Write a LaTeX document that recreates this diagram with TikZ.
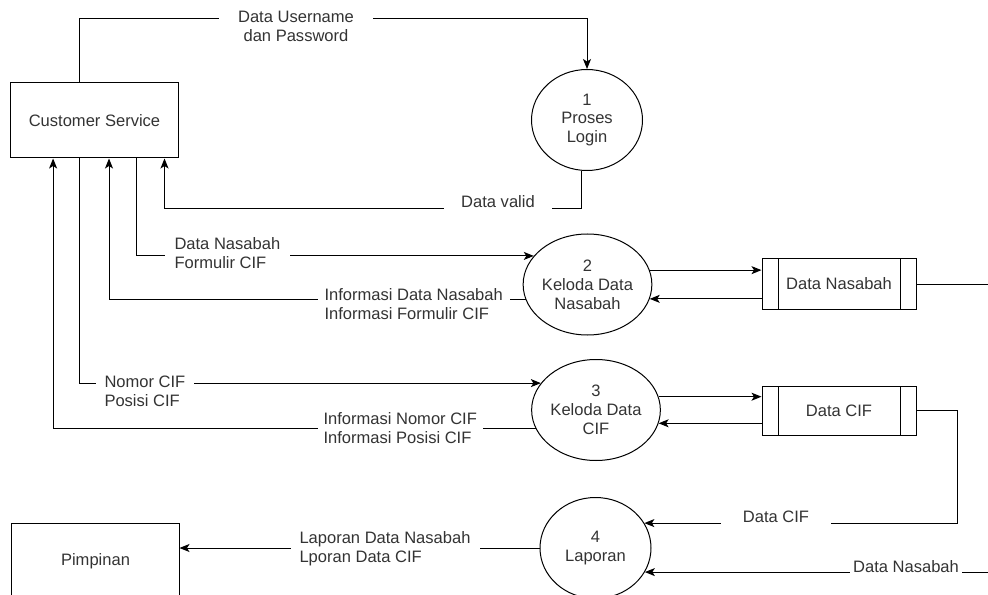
\documentclass[tikz,border=0pt]{standalone}
\usepackage{fontspec}
\setmainfont{Liberation Sans}
\usetikzlibrary{shapes.geometric,arrows.meta}

\begin{document}
\begin{tikzpicture}[x=1bp, y=-1bp, line width=1bp,
  every node/.style={font=\fontsize{16.6}{19}\selectfont, text=black!80},
  entity/.style={draw, rectangle, minimum width=167bp, minimum height=75bp},
  proc/.style={draw, ellipse, minimum width=111bp, minimum height=101bp, inner sep=0pt, align=center},
  store/.style={draw, rectangle, minimum width=154bp, minimum height=50bp,
    path picture={
      \draw ([xshift=16bp]path picture bounding box.north west) -- ([xshift=16bp]path picture bounding box.south west);
      \draw ([xshift=-16bp]path picture bounding box.north east) -- ([xshift=-16bp]path picture bounding box.south east);
    }},
  flow/.style={-{Stealth[length=10bp,width=8bp,inset=2.5bp]}},
  lbl/.style={fill=white, inner ysep=3bp, align=left}]
  \useasboundingbox (0,0) rectangle (988,595);
  \clip (0,0) rectangle (988,595);

  % entitas luar
  \node[entity] (cs) at (94.5,120.5) {Customer Service};
  \node[entity, minimum height=76bp] (pim) at (95.5,561) {Pimpinan};

  % proses
  \node[proc] (c1) at (587,120) {1\\Proses\\Login};
  \node[proc] (c2) at (587.5,284.5) {2\\Keloda Data\\Nasabah};
  \node[proc] (c3) at (596,410) {3\\Keloda Data\\CIF};
  \node[proc] (c4) at (595.5,548) {4\\Laporan};

  % data store
  \node[store] (ds) at (839,284) {Data Nasabah};
  \node[store, minimum height=49bp] (dc) at (839,410.5) {Data CIF};

  % login
  \draw[flow] ([xshift=69bp]cs.north west) |- ([yshift=50bp]c1.north) -- (c1.north);
  \draw[flow] (c1.264) -- ([yshift=-38bp]c1.264) -| ([xshift=154bp]cs.south west);

  % customer service <-> proses 2 dan 3
  \draw[flow] ([xshift=125.6bp]cs.south west) |- (c2.152);
  \draw[flow] (c2.194) -| ([xshift=98.5bp]cs.south west);
  \draw[flow] ([xshift=69.4bp]cs.south west) |- (c3.154);
  \draw[flow] (c3.197) -| ([xshift=42.6bp]cs.south west);

  % proses <-> data store
  \draw[flow] (c2.13) -- (c2.13 -| ds.west);
  \draw[flow] (c2.-13 -| ds.west) -- (c2.-13);
  \draw[flow] (c3.12) -- (c3.12 -| dc.west);
  \draw[flow] (c3.-12 -| dc.west) -- (c3.-12);

  % data store -> laporan
  \coordinate (dcR) at ([xshift=41bp]dc.east);
  \coordinate (dsR) at ([xshift=84bp]ds.east);
  \draw[flow] (dc.east) -- (dcR) |- (c4.27);
  \draw[flow] (ds.east) -- (dsR) |- (c4.-26);

  % laporan -> pimpinan
  \draw[flow] (c4.west) -- (c4.west -| pim.east);

  % label aliran data
  \node[lbl, align=center, inner xsep=19bp] (lUser) at (296,26.5) {Data Username\\dan Password};
  \node[lbl, inner xsep=17bp] (lValid) at (498,202) {Data valid};
  \node[lbl, anchor=west, inner xsep=10bp] (lNasIn) at (164,253) {Data Nasabah\\Formulir CIF};
  \node[lbl, anchor=west, inner xsep=7bp] (lNasOut) at (317,304.5) {Informasi Data Nasabah\\Informasi Formulir CIF};
  \node[lbl, anchor=west, inner xsep=9bp] (lCifIn) at (95,391.5) {Nomor CIF\\Posisi CIF};
  \node[lbl, anchor=west, inner xsep=6bp] (lCifOut) at (317,428.5) {Informasi Nomor CIF\\Informasi Posisi CIF};
  \node[lbl, inner xsep=22bp] (lDcif) at (776,517) {Data CIF};
  \node[lbl, inner xsep=3bp] (lDnas) at (906,567) {Data Nasabah};
  \node[lbl, anchor=west, inner xsep=9bp] (lLap) at (290,549) {Laporan Data Nasabah\\Lporan Data CIF};
\end{tikzpicture}
\end{document}
